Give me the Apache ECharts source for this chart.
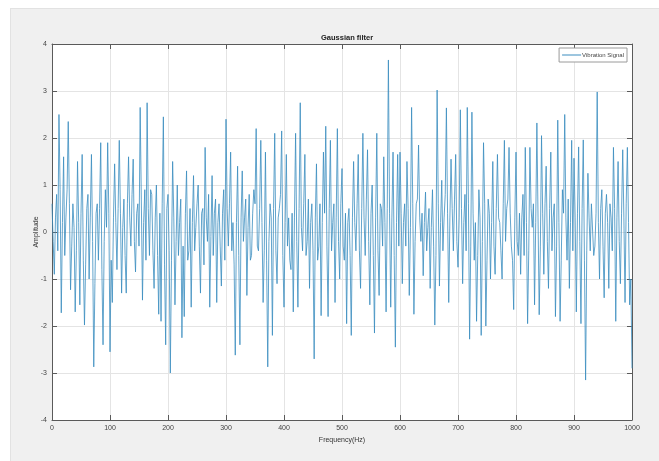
<!DOCTYPE html>
<html>
<head>
<meta charset="utf-8">
<title>Gaussian filter</title>
<script src="https://cdn.jsdelivr.net/npm/echarts@6/dist/echarts.min.js"></script>
<style>
  html, body { margin: 0; padding: 0; background: #fff; }
  #bg { position: absolute; left: 10px; top: 8px; width: 649px; height: 453px; background: #f0f0f0; border-top: 1px solid #e2e2e2; border-left: 1px solid #e2e2e2; }
  #chart { position: absolute; left: 0; top: 0; width: 659px; height: 461px; }
</style>
</head>
<body>
<div id="bg"></div>
<div id="chart"></div>
<script>
// sampling step of the signal (Hz)
var freqStep = 2;
var xTicks = [0, 100, 200, 300, 400, 500, 600, 700, 800, 900, 1000];
var yTicks = [-4, -3, -2, -1, 0, 1, 2, 3, 4];

// amplitude, one value every 2 Hz (each array = 100 Hz)
var amp0 = [0.6,-0.2,-0.9,0.3,0.8,-0.4,2.5,0.9,-1.72,0.2,1.6,-0.5,0.3,0.9,2.35,0.6,-1.23,-0.3,0.6,0.1,
  -1.7,-0.4,1.5,0.2,-1.55,0.4,1.65,-0.6,-1.98,-0.7,0.5,0.8,-1.0,0.3,1.65,-0.2,-2.87,-1.1,0.4,0.6,
  -0.6,0.5,1.9,-0.8,-2.4,-0.2,0.9,0.1,1.9,0.4];
var amp1 = [-2.55,-0.6,-1.5,0.3,1.45,0.2,-0.8,0.5,1.95,0.4,-1.3,0.1,0.7,-0.5,-1.3,0.6,1.6,0.3,-0.3,0.8,
  1.55,-0.2,-0.85,0.4,0.6,-0.3,2.65,0.7,-1.45,0.2,0.9,-0.6,2.75,0.5,-0.5,0.9,0.8,-0.4,-1.2,0.3,
  1.0,-0.5,-1.75,0.4,-1.9,0.6,2.45,-0.7,-2.4,0.5];
var amp2 = [0.8,-0.4,-3.0,-0.6,1.5,0.3,-1.55,-0.2,1.0,-0.5,0.2,0.7,-2.25,-0.3,-1.8,0.4,1.3,-0.6,-0.4,0.5,
  -1.6,0.2,1.2,-0.4,0.1,0.6,1.0,-0.3,-1.3,0.4,0.5,-0.7,1.8,0.3,-0.2,0.8,-1.6,-0.1,1.2,-0.5,
  0.4,0.7,-1.5,0.2,0.6,-0.3,-1.15,0.4,0.9,-0.6];
var amp3 = [2.4,0.5,-0.3,0.6,1.7,-0.4,0.2,-0.7,-2.62,0.2,1.4,-0.5,-2.4,0.3,1.3,-0.2,0.3,0.7,-1.35,0.1,
  0.8,-0.6,-0.5,0.4,0.9,0.6,2.2,-0.3,-0.4,0.5,1.95,0.2,-1.5,-0.4,1.7,-0.6,-2.87,-0.2,0.6,0.3,
  -2.2,0.5,2.1,-0.4,-1.1,0.3,0.5,0.8,2.15,-0.5];
var amp4 = [-1.6,0.2,1.65,-0.3,0.3,-0.6,-0.8,0.4,-1.7,0.3,2.1,-0.2,-1.6,0.5,2.75,0.1,-0.4,0.6,1.65,-0.5,
  -0.2,0.7,-1.2,0.2,0.6,-0.4,-2.7,0.3,1.45,-0.6,-0.3,0.6,-1.78,0.2,1.7,0.4,2.25,-0.3,-1.8,0.5,
  1.95,-0.4,0.2,0.6,-1.5,0.3,2.2,-0.2,-1.0,0.6];
var amp5 = [1.35,-0.3,-0.6,0.4,-1.95,0.2,0.5,-0.5,-2.2,0.3,1.5,0.2,-0.4,0.6,1.65,-0.4,-1.2,0.5,2.1,0.3,
  -0.5,0.7,1.75,-0.2,-1.55,0.4,1.0,-0.5,-2.15,0.3,2.1,-0.4,-1.35,0.6,0.5,-0.3,1.6,0.2,-1.7,0.5,
  3.66,0.4,-1.6,0.3,1.7,-0.5,-2.45,0.2,1.65,-0.3];
var amp6 = [1.7,0.4,-1.1,0.2,0.6,-0.3,1.5,0.5,-1.35,0.1,2.65,0.6,-1.75,-0.2,0.6,0.7,1.85,0.3,-0.2,0.4,
  -0.93,0.2,0.85,-0.4,0.1,0.5,-1.2,0.1,0.9,-0.3,-1.98,-0.5,3.02,0.6,-1.15,0.2,1.1,-0.4,0.3,0.8,
  2.64,0.4,-1.5,0.3,1.55,0.5,-0.4,0.7,1.65,-0.2];
var amp7 = [-0.75,0.3,2.6,0.5,-1.1,0.2,0.8,-0.4,2.65,0.6,-2.28,-0.3,2.55,0.4,-0.6,0.2,-1.9,-0.5,0.9,0.3,
  -2.2,-0.2,1.9,0.6,-2.0,-0.6,0.7,0.4,-1.0,0.2,1.5,-0.3,-0.9,0.5,1.65,0.3,0.2,-0.4,-1.0,0.6,
  1.95,-0.2,0.5,0.7,1.8,0.4,-0.3,-0.6,-1.65,0.3];
var amp8 = [1.7,-0.2,-0.5,0.4,-0.9,0.3,0.8,-0.5,1.8,0.2,-1.95,-0.4,1.8,0.5,0.1,0.6,-1.55,0.2,2.32,0.3,
  -1.76,-0.3,2.05,0.4,-0.9,0.6,1.4,-0.2,-1.2,0.5,1.7,-0.4,0.3,0.6,-1.8,-0.3,2.38,0.2,-1.9,-0.6,
  0.9,0.4,2.5,0.3,-0.6,0.7,-1.2,0.2,1.95,-0.4];
var amp9 = [1.57,0.3,-1.7,0.4,1.81,-0.2,-1.95,0.5,1.96,-0.6,-3.15,-0.4,1.25,0.3,-0.4,0.6,0.6,-0.5,-0.3,0.4,
  2.98,0.2,-1.0,0.5,0.9,-0.3,-1.4,0.4,0.8,0.2,-1.2,0.6,0.3,-0.4,1.8,0.5,-1.9,0.3,1.5,-0.2,
  -1.1,0.4,1.75,0.3,-1.5,0.6,1.8,0.2,-1.55,-1.0,-2.9];

var amplitude = [].concat(amp0, amp1, amp2, amp3, amp4, amp5, amp6, amp7, amp8, amp9);
var signal = amplitude.map(function (v, i) { return [i * freqStep, v]; });

var chart = echarts.init(document.getElementById('chart'), null, { renderer: 'canvas' });
var font = 'Liberation Sans, Arial, sans-serif';
var axisColor = '#5a5a5a';
var gridColor = '#e4e4e4';

var option = {
  backgroundColor: 'transparent',
  animation: false,
  title: {
    text: 'Gaussian filter',
    left: 342,
    textAlign: 'center',
    top: 29,
    textStyle: { fontFamily: font, fontSize: 7.5, fontWeight: 'bold', color: '#222' }
  },
  legend: {
    data: ['Vibration Signal'],
    right: 32,
    top: 48,
    icon: 'rect',
    itemWidth: 19,
    itemHeight: 1,
    padding: [4, 3, 4, 3],
    backgroundColor: '#fff',
    borderColor: '#9a9a9a',
    borderWidth: 1,
    borderRadius: 0,
    textStyle: { fontFamily: font, fontSize: 6, color: '#444', padding: [0, 0, 0, -4] }
  },
  grid: {
    left: 52, right: 27, top: 44, bottom: 41,
    show: true, backgroundColor: '#fff', borderWidth: 0
  },
  xAxis: [{
    type: 'value',
    min: xTicks[0], max: xTicks[xTicks.length - 1], interval: 100,
    name: 'Frequency(Hz)',
    nameLocation: 'middle',
    nameGap: 17,
    nameTextStyle: { fontFamily: font, fontSize: 7, color: '#333' },
    axisLine: { show: true, onZero: false, lineStyle: { color: axisColor, width: 1 } },
    axisTick: { show: true, inside: true, length: 5, lineStyle: { color: axisColor } },
    axisLabel: { fontFamily: font, fontSize: 7, color: '#444', margin: 5,
      formatter: function (v) { return String(v); } },
    splitLine: { show: true, lineStyle: { color: gridColor, width: 1 } }
  }, {
    type: 'value', position: 'top',
    min: xTicks[0], max: xTicks[xTicks.length - 1], interval: 100,
    axisLine: { show: true, onZero: false, lineStyle: { color: axisColor, width: 1 } },
    axisTick: { show: true, inside: true, length: 5, lineStyle: { color: axisColor } },
    axisLabel: { show: false },
    splitLine: { show: false }
  }],
  yAxis: [{
    type: 'value',
    min: yTicks[0], max: yTicks[yTicks.length - 1], interval: 1,
    name: 'Amplitude',
    nameLocation: 'middle',
    nameGap: 12,
    nameMoveOverlap: false,
    nameTextStyle: { fontFamily: font, fontSize: 7, color: '#333' },
    axisLine: { show: true, onZero: false, lineStyle: { color: axisColor, width: 1 } },
    axisTick: { show: true, inside: true, length: 5, lineStyle: { color: axisColor } },
    axisLabel: { fontFamily: font, fontSize: 7, color: '#444', margin: 5 },
    splitLine: { show: true, lineStyle: { color: gridColor, width: 1 } }
  }, {
    type: 'value', position: 'right',
    min: yTicks[0], max: yTicks[yTicks.length - 1], interval: 1,
    axisLine: { show: true, onZero: false, lineStyle: { color: axisColor, width: 1 } },
    axisTick: { show: true, inside: true, length: 5, lineStyle: { color: axisColor } },
    axisLabel: { show: false },
    splitLine: { show: false }
  }],
  series: [{
    name: 'Vibration Signal',
    type: 'line',
    data: signal,
    showSymbol: false,
    symbol: 'none',
    lineStyle: { color: '#3a8dbf', width: 0.8 },
    itemStyle: { color: '#3a8dbf' }
  }]
};

chart.setOption(option);
</script>
</body>
</html>
